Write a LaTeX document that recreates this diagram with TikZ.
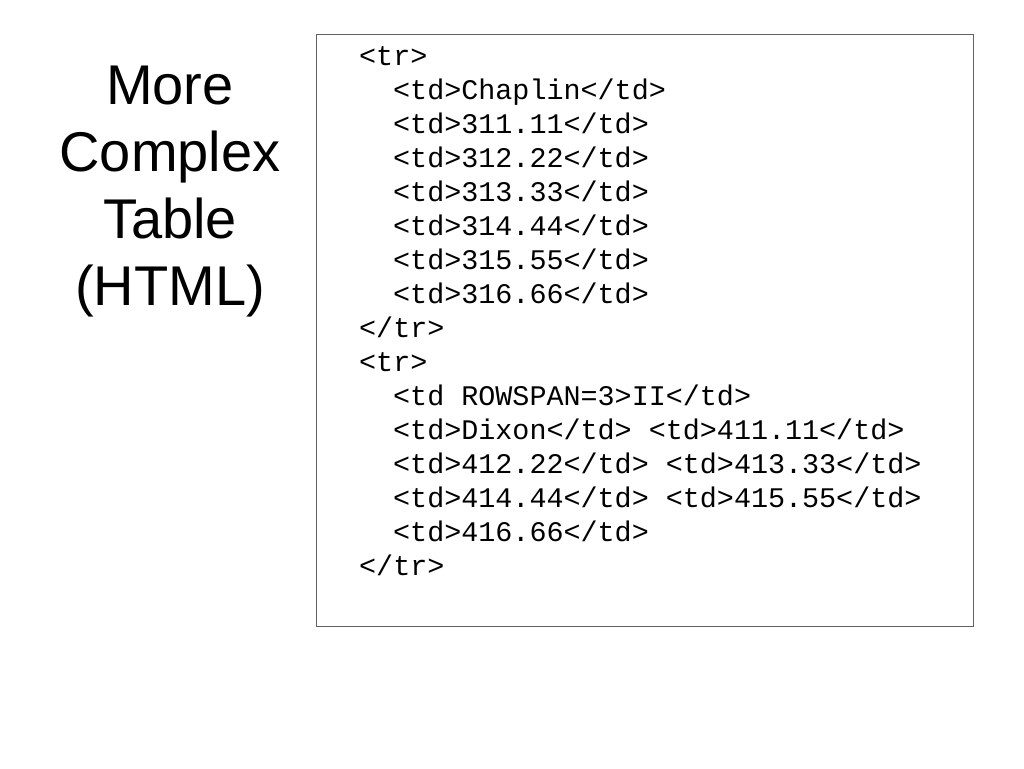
\documentclass[tikz,border=0pt]{standalone}
\usepackage{fontspec}
\setmainfont{Liberation Sans}
\newfontfamily\codefont{Liberation Mono}
\begin{document}
\begin{tikzpicture}[x=1pt,y=-1pt,
  titleline/.style={anchor=base,inner sep=0pt,font=\fontsize{56}{67}\selectfont},
  codeline/.style={anchor=base west,inner sep=0pt,font=\codefont\fontsize{28.4}{34}\selectfont},
  codebox/.style={draw=black!62,line width=1pt}]
\useasboundingbox[fill=white] (0,0) rectangle (1024,768);
\draw[codebox] (316,35) rectangle (973,626);
\node[titleline] (t1) at (170,104) {More};
\node[titleline] (t2) at (170,171) {Complex};
\node[titleline] (t3) at (170,238) {Table};
\node[titleline] (t4) at (170,305) {(HTML)};
\def\xa{359}
\def\xb{393}
\node[codeline] (c1)  at (\xa,65) {<tr>};
\node[codeline] (c2)  at (\xb,99) {<td>Chaplin</td>};
\node[codeline] (c3)  at (\xb,133) {<td>311.11</td>};
\node[codeline] (c4)  at (\xb,167) {<td>312.22</td>};
\node[codeline] (c5)  at (\xb,201) {<td>313.33</td>};
\node[codeline] (c6)  at (\xb,235) {<td>314.44</td>};
\node[codeline] (c7)  at (\xb,269) {<td>315.55</td>};
\node[codeline] (c8)  at (\xb,303) {<td>316.66</td>};
\node[codeline] (c9)  at (\xa,337) {</tr>};
\node[codeline] (c10) at (\xa,371) {<tr>};
\node[codeline] (c11) at (\xb,405) {<td ROWSPAN=3>II</td>};
\node[codeline] (c12) at (\xb,439) {<td>Dixon</td> <td>411.11</td>};
\node[codeline] (c13) at (\xb,473) {<td>412.22</td> <td>413.33</td>};
\node[codeline] (c14) at (\xb,507) {<td>414.44</td> <td>415.55</td>};
\node[codeline] (c15) at (\xb,541) {<td>416.66</td>};
\node[codeline] (c16) at (\xa,575) {</tr>};
\end{tikzpicture}
\end{document}
